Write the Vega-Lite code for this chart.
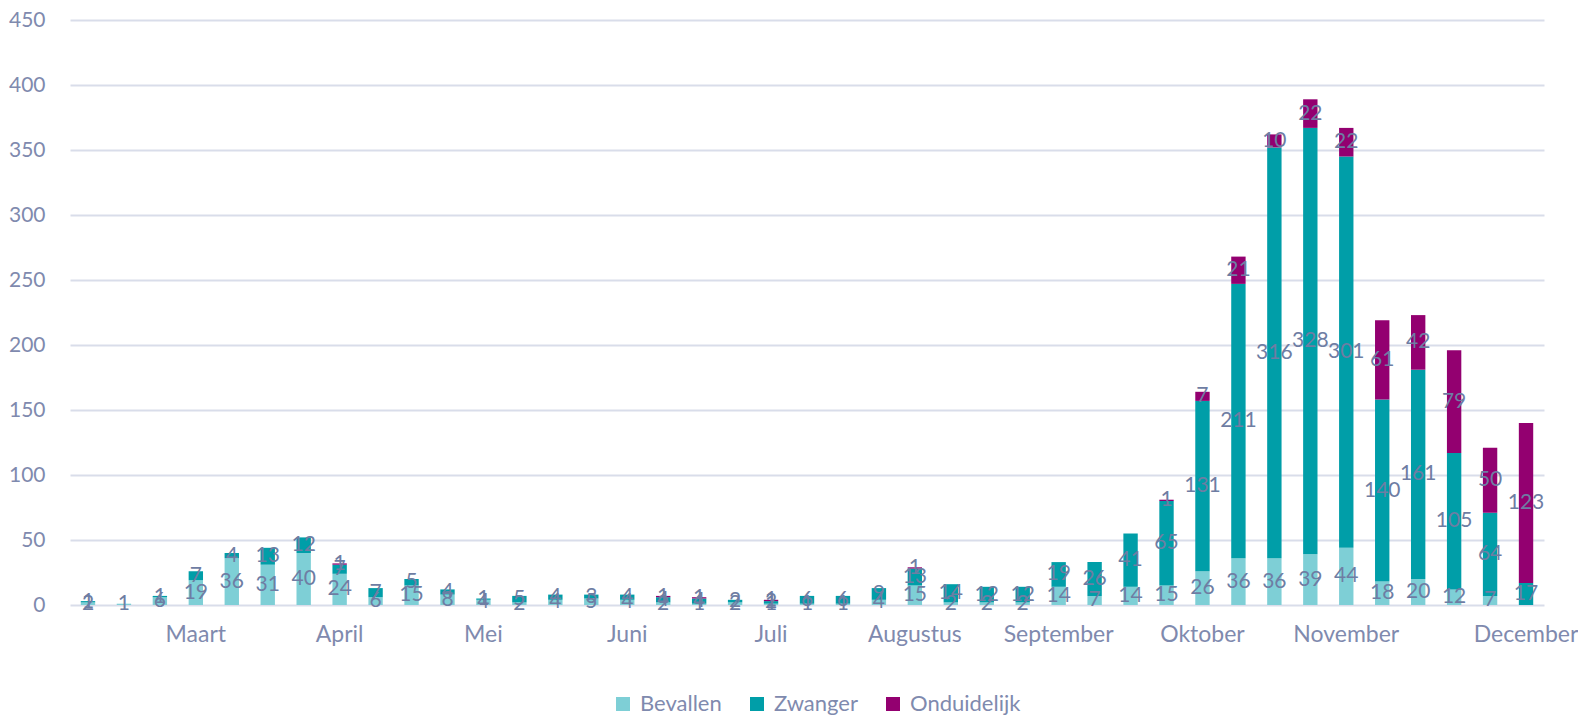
{
  "$schema": "https://vega.github.io/schema/vega-lite/v6.json",
  "width": 1474,
  "height": 585,
  "autosize": {"type": "none"},
  "padding": {"left": 70, "top": 20, "right": 34, "bottom": 112},
  "background": "white",
  "config": {
    "view": {"stroke": null},
    "font": "Lato",
    "axis": {"labelFont": "Lato", "labelFontSize": 20, "labelColor": "#7F8AAE", "title": null, "ticks": false, "domain": false}
  },
  "data": {
    "values": [
      {"w": 1, "Bevallen": 2, "Zwanger": 1, "Onduidelijk": 0},
      {"w": 2, "Bevallen": 1, "Zwanger": 0, "Onduidelijk": 0},
      {"w": 3, "Bevallen": 6, "Zwanger": 1, "Onduidelijk": 0},
      {"w": 4, "Bevallen": 19, "Zwanger": 7, "Onduidelijk": 0},
      {"w": 5, "Bevallen": 36, "Zwanger": 4, "Onduidelijk": 0},
      {"w": 6, "Bevallen": 31, "Zwanger": 13, "Onduidelijk": 0},
      {"w": 7, "Bevallen": 40, "Zwanger": 12, "Onduidelijk": 0},
      {"w": 8, "Bevallen": 24, "Zwanger": 7, "Onduidelijk": 1},
      {"w": 9, "Bevallen": 6, "Zwanger": 7, "Onduidelijk": 0},
      {"w": 10, "Bevallen": 15, "Zwanger": 5, "Onduidelijk": 0},
      {"w": 11, "Bevallen": 8, "Zwanger": 4, "Onduidelijk": 0},
      {"w": 12, "Bevallen": 4, "Zwanger": 1, "Onduidelijk": 0},
      {"w": 13, "Bevallen": 2, "Zwanger": 5, "Onduidelijk": 0},
      {"w": 14, "Bevallen": 4, "Zwanger": 4, "Onduidelijk": 0},
      {"w": 15, "Bevallen": 5, "Zwanger": 3, "Onduidelijk": 0},
      {"w": 16, "Bevallen": 4, "Zwanger": 4, "Onduidelijk": 0},
      {"w": 17, "Bevallen": 2, "Zwanger": 4, "Onduidelijk": 1},
      {"w": 18, "Bevallen": 1, "Zwanger": 4, "Onduidelijk": 1},
      {"w": 19, "Bevallen": 2, "Zwanger": 2, "Onduidelijk": 0},
      {"w": 20, "Bevallen": 1, "Zwanger": 2, "Onduidelijk": 1},
      {"w": 21, "Bevallen": 1, "Zwanger": 6, "Onduidelijk": 0},
      {"w": 22, "Bevallen": 1, "Zwanger": 6, "Onduidelijk": 0},
      {"w": 23, "Bevallen": 4, "Zwanger": 9, "Onduidelijk": 0},
      {"w": 24, "Bevallen": 15, "Zwanger": 13, "Onduidelijk": 1},
      {"w": 25, "Bevallen": 2, "Zwanger": 14, "Onduidelijk": 0},
      {"w": 26, "Bevallen": 2, "Zwanger": 12, "Onduidelijk": 0},
      {"w": 27, "Bevallen": 2, "Zwanger": 12, "Onduidelijk": 0},
      {"w": 28, "Bevallen": 14, "Zwanger": 19, "Onduidelijk": 0},
      {"w": 29, "Bevallen": 7, "Zwanger": 26, "Onduidelijk": 0},
      {"w": 30, "Bevallen": 14, "Zwanger": 41, "Onduidelijk": 0},
      {"w": 31, "Bevallen": 15, "Zwanger": 65, "Onduidelijk": 1},
      {"w": 32, "Bevallen": 26, "Zwanger": 131, "Onduidelijk": 7},
      {"w": 33, "Bevallen": 36, "Zwanger": 211, "Onduidelijk": 21},
      {"w": 34, "Bevallen": 36, "Zwanger": 316, "Onduidelijk": 10},
      {"w": 35, "Bevallen": 39, "Zwanger": 328, "Onduidelijk": 22},
      {"w": 36, "Bevallen": 44, "Zwanger": 301, "Onduidelijk": 22},
      {"w": 37, "Bevallen": 18, "Zwanger": 140, "Onduidelijk": 61},
      {"w": 38, "Bevallen": 20, "Zwanger": 161, "Onduidelijk": 42},
      {"w": 39, "Bevallen": 12, "Zwanger": 105, "Onduidelijk": 79},
      {"w": 40, "Bevallen": 7, "Zwanger": 64, "Onduidelijk": 50},
      {"w": 41, "Bevallen": 0, "Zwanger": 17, "Onduidelijk": 123}
    ]
  },
  "transform": [
    {"fold": ["Bevallen", "Zwanger", "Onduidelijk"], "as": ["serie", "aantal"]},
    {"window": [{"op": "row_number", "as": "rang"}], "groupby": ["w"]},
    {"filter": "datum.aantal > 0"}
  ],
  "encoding": {
    "x": {
      "field": "w",
      "type": "ordinal",
      "scale": {"paddingInner": 0.6, "paddingOuter": 0.3},
      "axis": {
        "labelAngle": 0,
        "labelPadding": 18,
        "labelFontSize": 23,
        "grid": false,
        "labelExpr": "['','','','Maart','','','','April','','','','Mei','','','','Juni','','','','Juli','','','','Augustus','','','','September','','','','Oktober','','','','November','','','','','December'][datum.value - 1]"
      }
    },
    "y": {
      "field": "aantal",
      "type": "quantitative",
      "stack": "zero",
      "scale": {"domain": [0, 450], "nice": false},
      "axis": {"values": [0, 50, 100, 150, 200, 250, 300, 350, 400, 450], "grid": true, "gridColor": "#D9DDEA", "gridWidth": 2, "labelPadding": 25, "labelFontSize": 21}
    },
    "order": {"field": "rang", "type": "quantitative", "sort": "ascending"}
  },
  "layer": [
    {
      "mark": {"type": "bar"},
      "encoding": {
        "color": {
          "field": "serie",
          "type": "nominal",
          "scale": {"domain": ["Bevallen", "Zwanger", "Onduidelijk"], "range": ["#7ECFD6", "#009EA8", "#930070"]},
          "legend": {
            "orient": "none",
            "legendX": 542,
            "legendY": 673,
            "direction": "horizontal",
            "title": null,
            "symbolType": "square",
            "symbolSize": 196,
            "symbolStrokeWidth": 0,
            "labelFont": "Lato",
            "labelFontSize": 22,
            "labelColor": "#7F8AAE",
            "labelOffset": 6,
            "columnPadding": 24,
            "padding": 0
          }
        }
      }
    },
    {
      "mark": {"type": "text", "font": "Lato", "fontSize": 21, "color": "#6E7DA3", "baseline": "middle"},
      "encoding": {
        "y": {"field": "aantal", "type": "quantitative", "stack": "zero", "bandPosition": 0.5},
        "detail": {"field": "serie"},
        "text": {"field": "aantal", "type": "quantitative"}
      }
    }
  ]
}
